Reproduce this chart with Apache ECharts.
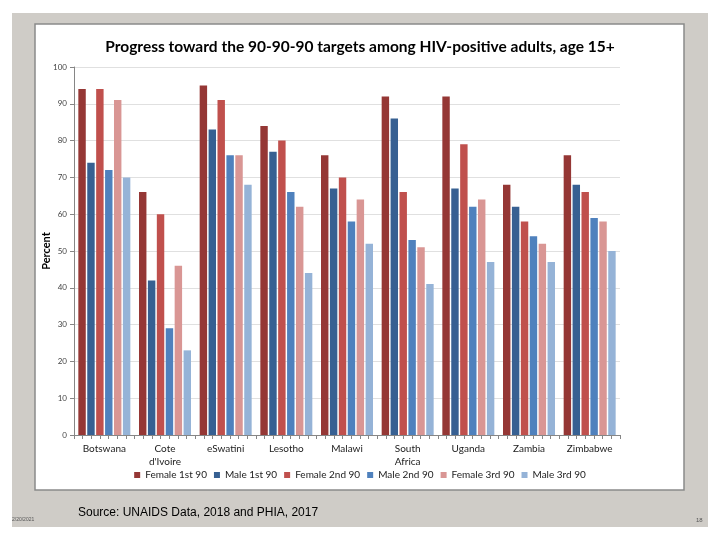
<!DOCTYPE html>
<html>
<head>
<meta charset="utf-8">
<script src="https://cdn.jsdelivr.net/npm/echarts@6/dist/echarts.min.js"></script>
<style>
html,body{margin:0;padding:0;background:#fff;}
#chart{width:720px;height:540px;}
</style>
</head>
<body>
<div id="chart"></div>
<script>
const categories = ["Botswana", "Cote\nd'Ivoire", "eSwatini", "Lesotho", "Malawi", "South\nAfrica", "Uganda", "Zambia", "Zimbabwe"];
const seriesNames = ["Female 1st 90", "Male 1st 90", "Female 2nd 90", "Male 2nd 90", "Female 3rd 90", "Male 3rd 90"];
const female1st = [94, 66, 95, 84, 76, 92, 92, 68, 76];
const male1st   = [74, 42, 83, 77, 67, 86, 67, 62, 68];
const female2nd = [94, 60, 91, 80, 70, 66, 79, 58, 66];
const male2nd   = [72, 29, 76, 66, 58, 53, 62, 54, 59];
const female3rd = [91, 46, 76, 62, 64, 51, 64, 52, 58];
const male3rd   = [70, 23, 68, 44, 52, 41, 47, 47, 50];
const yTicks = [0, 10, 20, 30, 40, 50, 60, 70, 80, 90, 100];
const colors = ["#953735", "#376092", "#c0504d", "#4f81bd", "#d99694", "#95b3d7"];
const seriesData = [female1st, male1st, female2nd, male2nd, female3rd, male3rd];

const chart = echarts.init(document.getElementById('chart'), null, {renderer: 'canvas'});
const font = 'Lato, "Open Sans", sans-serif';

chart.setOption({
  animation: false,
  backgroundColor: '#ffffff',
  graphic: [
    {type: 'rect', z: -20, silent: true, shape: {x: 12, y: 13, width: 696, height: 514}, style: {fill: '#cfccc7'}},
    {type: 'rect', z: -10, silent: true, shape: {x: 35, y: 24, width: 649, height: 466}, style: {fill: '#ffffff', stroke: '#8a8a8a', lineWidth: 1.5}},
    {type: 'text', z: 10, left: 78, top: 507, style: {text: 'Source: UNAIDS Data, 2018 and PHIA, 2017', font: '12px "Liberation Sans", Arial, sans-serif', fill: '#000'}},
    {type: 'text', z: 10, left: 12, top: 517, style: {text: '2/20/2021', font: '5px "Liberation Sans", Arial, sans-serif', fill: '#555'}},
    {type: 'text', z: 10, left: 696, top: 517, style: {text: '18', font: '6px "Liberation Sans", Arial, sans-serif', fill: '#555'}}
  ],
  title: {
    text: 'Progress toward the 90-90-90 targets among HIV-positive adults, age 15+',
    left: 'center',
    top: 34,
    textStyle: {fontFamily: font, fontWeight: 'bold', fontSize: 15.5, color: '#000'}
  },
  legend: {
    data: seriesNames,
    bottom: 55,
    left: 'center',
    icon: 'rect',
    itemWidth: 6,
    itemHeight: 6,
    itemGap: 7,
    textStyle: {fontFamily: font, fontSize: 10, color: '#222'}
  },
  grid: {left: 74, right: 100, top: 67, bottom: 105},
  xAxis: [
    {
      type: 'category',
      data: categories,
      axisLine: {show: true, lineStyle: {color: '#868686'}},
      axisTick: {show: false},
      axisLabel: {fontFamily: font, fontSize: 10, color: '#222', margin: 7, lineHeight: 13, interval: 0}
    },
    {
      type: 'value',
      position: 'bottom',
      min: 0, max: 63, interval: 1,
      axisLine: {show: false},
      axisTick: {show: true, length: 4, lineStyle: {color: '#868686'}},
      axisLabel: {show: false},
      splitLine: {show: false}
    }
  ],
  yAxis: {
    type: 'value',
    min: yTicks[0], max: yTicks[yTicks.length - 1], interval: 10,
    name: 'Percent',
    nameLocation: 'middle',
    nameGap: 22,
    nameMoveOverlap: false,
    nameTextStyle: {fontFamily: font, fontWeight: 'bold', fontSize: 11, color: '#000'},
    axisLine: {show: true, lineStyle: {color: '#868686'}},
    axisTick: {show: true, length: 4, lineStyle: {color: '#868686'}},
    axisLabel: {fontFamily: font, fontSize: 8, color: '#444', margin: 7},
    splitLine: {lineStyle: {color: '#e0e0e0'}}
  },
  series: seriesNames.map((n, i) => ({
    name: n,
    type: 'bar',
    xAxisIndex: 0,
    data: seriesData[i],
    itemStyle: {color: colors[i]},
    barGap: '20%',
    barCategoryGap: '14.3%'
  }))
});
</script>
</body>
</html>
